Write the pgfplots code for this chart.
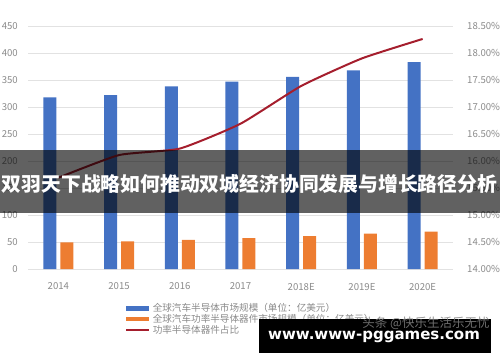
\documentclass[border=0pt]{standalone}
\usepackage{pgfplots}
\pgfplotsset{compat=1.18}
\usepackage{fontspec}
\setmainfont{Noto Sans CJK SC}
\newfontfamily\urlfont{DejaVu Sans}
\definecolor{barblue}{HTML}{4472C4}
\definecolor{barorange}{HTML}{ED7D31}
\definecolor{linered}{HTML}{A51E2D}
\definecolor{gridgray}{HTML}{E2E2E2}
\definecolor{labgray}{HTML}{8A8A8A}
\begin{document}
\begin{tikzpicture}
\path[use as bounding box] (-28pt,-93pt) rectangle (472pt,269pt);
\begin{axis}[
  at={(0pt,0pt)}, anchor=south west,
  scale only axis, width=425pt, height=243pt,
  xmin=-0.5, xmax=6.5, ymin=0, ymax=450,
  xtick={0,...,6}, xticklabels={2014,2015,2016,2017,2018E,2019E,2020E},
  ytick={0,50,100,150,200,250,300,350,400,450},
  ymajorgrids, grid style={gridgray, line width=0.8pt},
  axis line style={draw=none}, major tick style={draw=none},
  tick label style={font=\fontsize{9.6}{11}\selectfont, text=labgray},
  yticklabel style={anchor=east, inner sep=0pt, xshift=-10pt},
  xticklabel style={anchor=north, inner sep=0pt, yshift=-9.5pt},
  /pgf/number format/assume math mode=true,
  ybar, bar width=13pt,
  legend cell align=left,
  legend style={at={(0.2282,-0.1387)}, anchor=north west, draw=none, fill=none,
    inner sep=0pt, font=\fontsize{9.6}{11}\selectfont, text=labgray,
    nodes={inner sep=0.6pt}, column sep=2pt, row sep=0pt},
]
\addplot[fill=barblue, draw=none, bar shift=-8.5pt,
  legend image code/.code={\fill[barblue] (0pt,-2.2pt) rectangle (23pt,2.2pt);}]
  coordinates {(0,318) (1,322) (2,338) (3,347) (4,356) (5,368) (6,383)};
\addlegendentry{全球汽车半导体市场规模（单位：亿美元）}
\addplot[fill=barorange, draw=none, bar shift=8.5pt,
  legend image code/.code={\fill[barorange] (0pt,-2.2pt) rectangle (23pt,2.2pt);}]
  coordinates {(0,49.4) (1,51) (2,54) (3,57) (4,61) (5,65.4) (6,69)};
\addlegendentry{全球汽车功率半导体器件市场规模（单位：亿美元）}
\addlegendimage{legend image code/.code={\draw[linered, line width=2pt] (0pt,0pt) -- (23pt,0pt);}}
\addlegendentry{功率半导体器件占比}
\end{axis}
\begin{axis}[
  at={(0pt,0pt)}, anchor=south west,
  scale only axis, width=425pt, height=243pt,
  xmin=-0.5, xmax=6.5, ymin=14, ymax=18.5,
  axis y line*=right, axis x line=none,
  ytick={14,14.5,15,15.5,16,16.5,17,17.5,18,18.5},
  yticklabel={\pgfmathprintnumber[fixed,fixed zerofill,precision=2]{\tick}\%},
  axis line style={draw=none}, major tick style={draw=none},
  tick label style={font=\fontsize{9.6}{11}\selectfont, text=labgray},
  yticklabel style={anchor=west, inner sep=0pt, xshift=14pt},
  /pgf/number format/assume math mode=true,
]
\addplot[linered, line width=2pt, smooth, tension=0.3, mark=none]
  coordinates {(0,15.69) (1,16.11) (2,16.23) (3,16.69) (4,17.39) (5,17.90) (6,18.26)};
\end{axis}
\fill[black, opacity=0.62] (-28pt,56pt) rectangle (472pt,119pt);
\node[text=white, font=\fontsize{19.8}{22}\selectfont\bfseries, inner sep=0pt] at (221.5pt,85pt) {双羽天下战略如何推动双城经济协同发展与增长路径分析};
\fill[black] (231pt,-50pt) rectangle (463pt,-84pt);
\node[text=gray, opacity=0.85, font=\fontsize{12.5}{14}\selectfont, inner sep=0pt] at (398pt,-54pt) {头条 @快乐生活乐无忧};
\node[text=white, font=\urlfont\bfseries\fontsize{15}{18}\selectfont, inner sep=0pt] at (346pt,-68pt) {www.www-pggames.com};
\end{tikzpicture}
\end{document}
